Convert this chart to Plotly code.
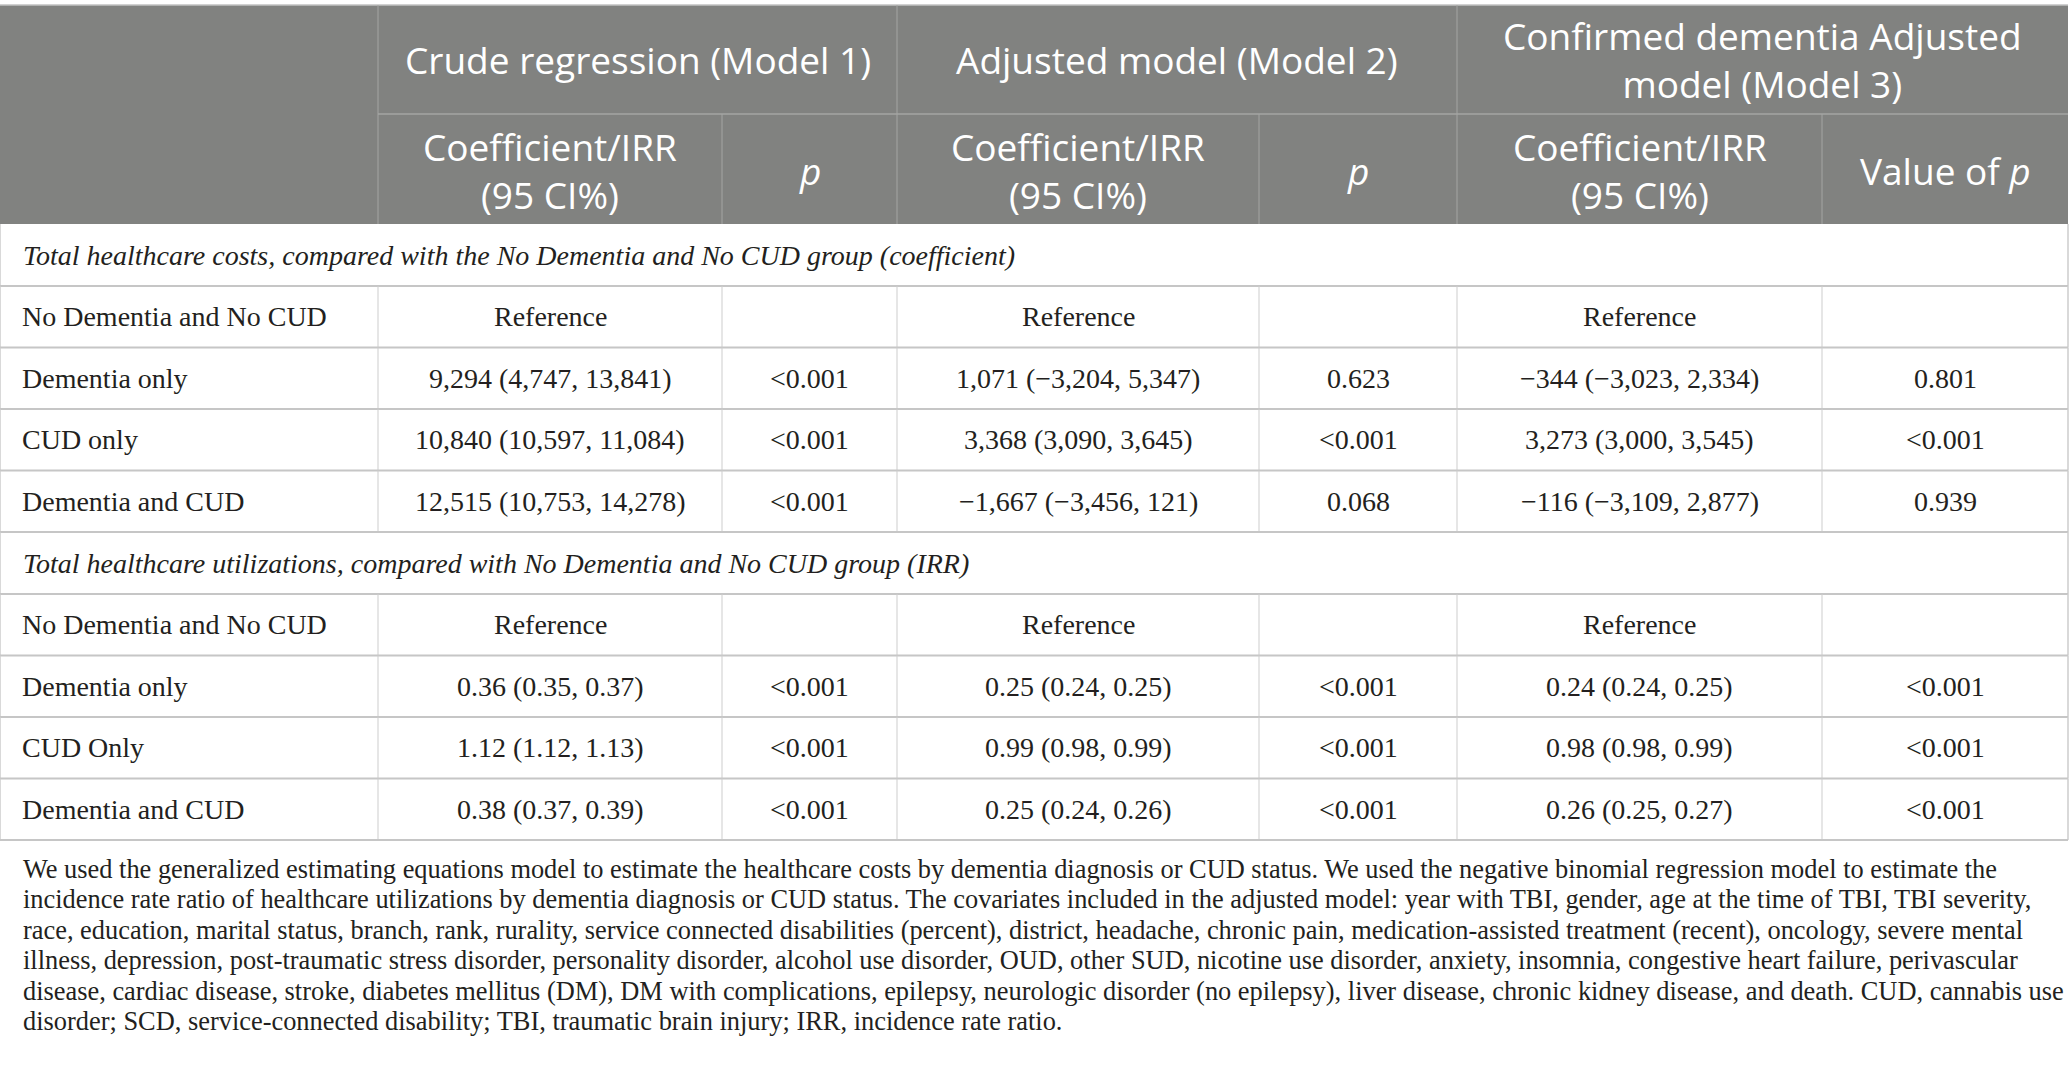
import plotly.graph_objects as go

# ---------------- data ----------------
group_headers = ["Crude regression (Model 1)", "Adjusted model (Model 2)",
                 "Confirmed dementia Adjusted<br>model (Model 3)"]
sub_headers = ["Coefficient/IRR<br>(95 CI%)", "<i>p</i>",
               "Coefficient/IRR<br>(95 CI%)", "<i>p</i>",
               "Coefficient/IRR<br>(95 CI%)", "Value of <i>p</i>"]

section_titles = [
    "Total healthcare costs, compared with the No Dementia and No CUD group (coefficient)",
    "Total healthcare utilizations, compared with No Dementia and No CUD group (IRR)",
]

cost_labels = ["No Dementia and No CUD", "Dementia only", "CUD only", "Dementia and CUD"]
cost_m1 = ["Reference", "9,294 (4,747, 13,841)", "10,840 (10,597, 11,084)", "12,515 (10,753, 14,278)"]
cost_p1 = ["", "<0.001", "<0.001", "<0.001"]
cost_m2 = ["Reference", "1,071 (\u22123,204, 5,347)", "3,368 (3,090, 3,645)", "\u22121,667 (\u22123,456, 121)"]
cost_p2 = ["", "0.623", "<0.001", "0.068"]
cost_m3 = ["Reference", "\u2212344 (\u22123,023, 2,334)", "3,273 (3,000, 3,545)", "\u2212116 (\u22123,109, 2,877)"]
cost_p3 = ["", "0.801", "<0.001", "0.939"]

util_labels = ["No Dementia and No CUD", "Dementia only", "CUD Only", "Dementia and CUD"]
util_m1 = ["Reference", "0.36 (0.35, 0.37)", "1.12 (1.12, 1.13)", "0.38 (0.37, 0.39)"]
util_p1 = ["", "<0.001", "<0.001", "<0.001"]
util_m2 = ["Reference", "0.25 (0.24, 0.25)", "0.99 (0.98, 0.99)", "0.25 (0.24, 0.26)"]
util_p2 = ["", "<0.001", "<0.001", "<0.001"]
util_m3 = ["Reference", "0.24 (0.24, 0.25)", "0.98 (0.98, 0.99)", "0.26 (0.25, 0.27)"]
util_p3 = ["", "<0.001", "<0.001", "<0.001"]

footnote_lines = [
    "We used the generalized estimating equations model to estimate the healthcare costs by dementia diagnosis or CUD status. We used the negative binomial regression model to estimate the",
    "incidence rate ratio of healthcare utilizations by dementia diagnosis or CUD status. The covariates included in the adjusted model: year with TBI, gender, age at the time of TBI, TBI severity,",
    "race, education, marital status, branch, rank, rurality, service connected disabilities (percent), district, headache, chronic pain, medication-assisted treatment (recent), oncology, severe mental",
    "illness, depression, post-traumatic stress disorder, personality disorder, alcohol use disorder, OUD, other SUD, nicotine use disorder, anxiety, insomnia, congestive heart failure, perivascular",
    "disease, cardiac disease, stroke, diabetes mellitus (DM), DM with complications, epilepsy, neurologic disorder (no epilepsy), liver disease, chronic kidney disease, and death. CUD, cannabis use",
    "disorder; SCD, service-connected disability; TBI, traumatic brain injury; IRR, incidence rate ratio.",
]

# ---------------- layout geometry ----------------
W, H = 2070, 1079
col_edges = [0, 378, 722, 897, 1259, 1457, 1822, 2068]
hdr_top, hdr_mid, hdr_bot = 5, 114, 224
row_h = 61.5
sec_h = 62

HEADER_BG = "#818280"
HEADER_LINE = "#a4a5a3"
GRID = "#c6c6c6"
VGRID = "#cdcdcd"
TXT = "#231f20"
SANS = "'Open Sans', Lato, sans-serif"
SERIF = "'Liberation Serif', 'DejaVu Serif', serif"
HFS = 37
BFS = 28
FFS = 26.4


def esc(s):
    return s.replace("<0", "&lt;0")


shapes = []
ann = []


def line(x0, y0, x1, y1, color, width):
    shapes.append(dict(type="line", xref="x", yref="y", x0=x0, y0=y0, x1=x1, y1=y1,
                       line=dict(color=color, width=width), layer="above"))


def text(x, y, s, size, font, color, xanchor="center", italic=False):
    if italic:
        s = "<i>" + s + "</i>"
    ann.append(dict(x=x, y=y, xref="x", yref="y", text=s, showarrow=False,
                    xanchor=xanchor, yanchor="middle", align="center",
                    font=dict(size=size, family=font, color=color)))


# header background
shapes.append(dict(type="rect", xref="x", yref="y", x0=col_edges[0], x1=col_edges[-1],
                   y0=hdr_top, y1=hdr_bot, fillcolor=HEADER_BG, line=dict(width=0), layer="below"))
line(col_edges[0], hdr_top, col_edges[-1], hdr_top, "#c2c2c2", 1.5)
line(col_edges[1], hdr_mid, col_edges[-1], hdr_mid, HEADER_LINE, 1.5)
for i in [1, 3, 5]:
    line(col_edges[i], hdr_top, col_edges[i], hdr_bot, HEADER_LINE, 1)
for i in [2, 4, 6]:
    line(col_edges[i], hdr_mid, col_edges[i], hdr_bot, HEADER_LINE, 1)

# header texts
grp_spans = [(1, 3), (3, 5), (5, 7)]
ymid1 = (hdr_top + hdr_mid) / 2
ymid2 = (hdr_mid + hdr_bot) / 2
for g, (a, b) in zip(group_headers, grp_spans):
    text((col_edges[a] + col_edges[b]) / 2, ymid1, g, HFS, SANS, "white")
for j, s in enumerate(sub_headers):
    text((col_edges[j + 1] + col_edges[j + 2]) / 2, ymid2 + 1, s, HFS, SANS, "white")

# body
sections = [
    (section_titles[0], cost_labels, [cost_m1, cost_p1, cost_m2, cost_p2, cost_m3, cost_p3]),
    (section_titles[1], util_labels, [util_m1, util_p1, util_m2, util_p2, util_m3, util_p3]),
]
y = hdr_bot
for title, labels, cols in sections:
    text(21, y + sec_h / 2, title, BFS, SERIF, TXT, xanchor="left", italic=True)
    line(col_edges[0], y, col_edges[0], y + sec_h, VGRID, 1.5)
    line(col_edges[-1], y, col_edges[-1], y + sec_h, VGRID, 1.5)
    y += sec_h
    line(col_edges[0], y, col_edges[-1], y, GRID, 2)
    for r, lab in enumerate(labels):
        yc = y + row_h / 2
        text(20, yc, lab, BFS, SERIF, TXT, xanchor="left")
        for c, vals in enumerate(cols):
            xc = (col_edges[c + 1] + col_edges[c + 2]) / 2
            if vals[r]:
                text(xc, yc, esc(vals[r]), BFS, SERIF, TXT)
        for e in col_edges:
            line(e, y, e, y + row_h, VGRID, 1.5 if e in (col_edges[0], col_edges[-1]) else 1)
        y += row_h
        line(col_edges[0], y, col_edges[-1], y, GRID, 2)
table_bottom = y

# footnote
for k, t in enumerate(footnote_lines):
    text(21, table_bottom + 29 + k * 30.4, t, FFS, SERIF, TXT, xanchor="left")

fig = go.Figure()
fig.update_layout(
    width=W, height=H, margin=dict(l=0, r=0, t=0, b=0),
    paper_bgcolor="white", plot_bgcolor="white",
    xaxis=dict(range=[0, W], visible=False, fixedrange=True),
    yaxis=dict(range=[H, 0], visible=False, fixedrange=True),
    shapes=shapes, annotations=ann, showlegend=False,
)
fig.write_html("out.html", config={"displayModeBar": False},
               post_script="document.body.style.margin='0';document.body.style.overflow='hidden';")
